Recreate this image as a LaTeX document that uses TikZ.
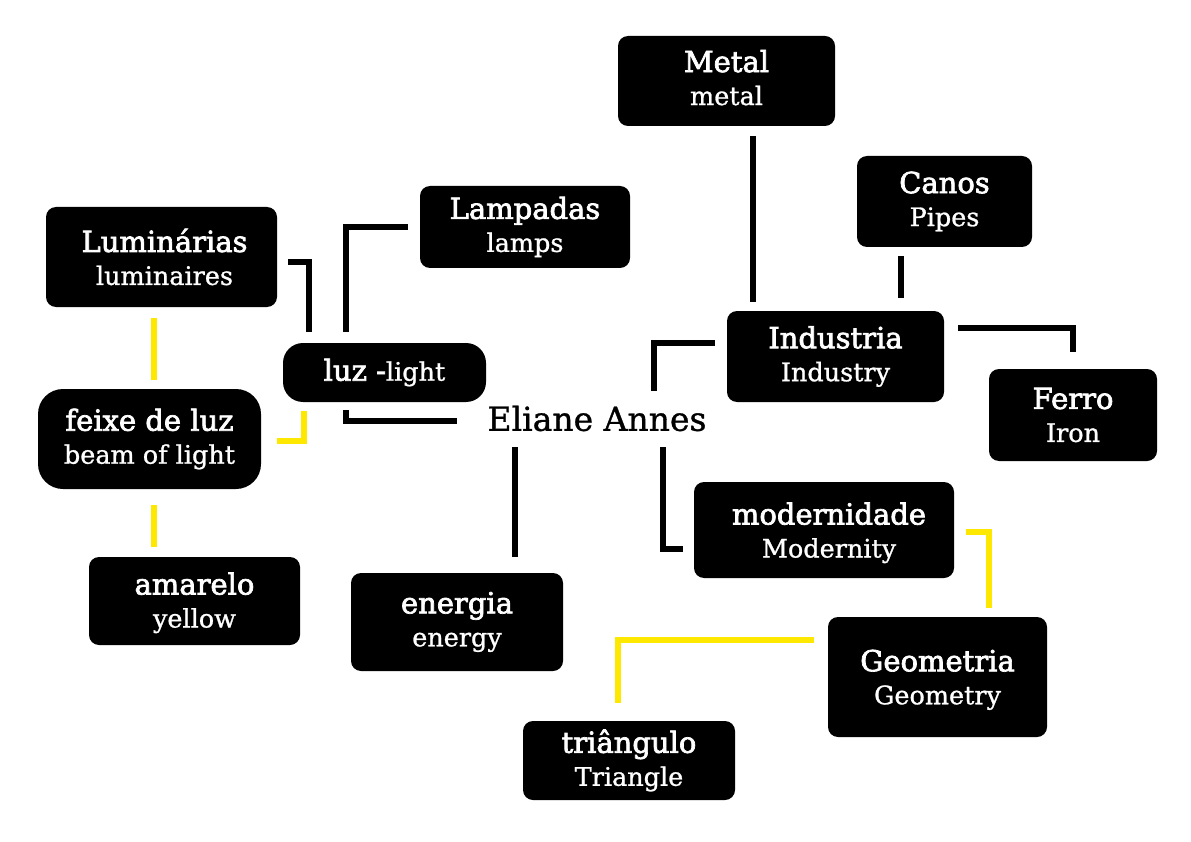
\documentclass[tikz,border=0pt]{standalone}
\usepackage{fontspec}
\setmainfont{DejaVu Serif}
\newfontfamily\ttlfont[FakeBold=2.4]{DejaVu Serif}
\newfontfamily\subfont[FakeBold=1.0]{DejaVu Serif}
\usetikzlibrary{calc}
\definecolor{ylw}{HTML}{FFE800}
\newcommand\ttl[1]{{\ttlfont\fontsize{29}{33}\selectfont #1}}
\tikzset{
  box/.style={fill=black, text=white, rounded corners=10pt, align=center, inner sep=0pt,
    font=\subfont\fontsize{25.5}{33}\selectfont},
  blk/.style={draw=black, line width=6pt},
  ylink/.style={draw=ylw, line width=6.5pt}
}
\begin{document}
\begin{tikzpicture}[x=1pt,y=-1pt]
\useasboundingbox (0,0) rectangle (1191,842);
\fill[white] (0,0) rectangle (1191,842);
% boxes
\node[box, minimum width=217pt, minimum height=90pt, text depth=7pt] (metal) at (726.5,81) {\ttl{Metal}\\metal};
\node[box, minimum width=175pt, minimum height=91pt] (canos) at (944.5,201.5) {\ttl{Canos}\\Pipes};
\node[box, minimum width=210pt, minimum height=82pt] (lamp) at (525,227) {\ttl{Lampadas}\\lamps};
\node[box, minimum width=231pt, minimum height=100pt] (lum) at (161.5,257) {\hspace*{6pt}\ttl{Luminárias}\\\hspace*{6pt}luminaires};
\node[box, rounded corners=20pt, minimum width=203pt, minimum height=59pt] (luz) at (384.5,372.5) {\ttl{luz -}light};
\node[box, minimum width=217pt, minimum height=91pt] (ind) at (835.5,356.5) {\ttl{Industria}\\Industry};
\node[box, minimum width=168pt, minimum height=92pt] (ferro) at (1073,415) {\ttl{Ferro}\\Iron};
\node[box, rounded corners=25pt, minimum width=223pt, minimum height=100pt] (feixe) at (149.5,439) {\ttl{feixe de luz}\\beam of light};
\node[box, minimum width=211pt, minimum height=88pt, text depth=2pt] (amarelo) at (194.5,601) {\ttl{amarelo}\\yellow};
\node[box, minimum width=212pt, minimum height=98pt] (energia) at (457,622) {\ttl{energia}\\energy};
\node[box, minimum width=260pt, minimum height=96pt, text depth=0pt] (mod) at (824,530) {\hspace*{10pt}\ttl{modernidade}\\\hspace*{10pt}Modernity};
\node[box, minimum width=219pt, minimum height=120pt, text depth=0pt] (geo) at (937.5,677) {\ttl{Geometria}\\Geometry};
\node[box, minimum width=212pt, minimum height=79pt] (tri) at (629,760.5) {\ttl{triângulo}\\Triangle};
\node[inner sep=0pt, font=\subfont\fontsize{33}{40}\selectfont] (eliane) at (597,418.5) {Eliane Annes};
% black connectors
\draw[blk, shorten <=10pt, shorten >=9pt] ([xshift=26pt]ind.north west |- metal.south) -- ([xshift=26pt]ind.north west);
\draw[blk, shorten <=9pt, shorten >=13pt] ([xshift=-43.5pt]canos.south) -- ([xshift=-43.5pt]canos.south |- ind.north);
\draw[blk, shorten <=14pt, shorten >=17pt] ([yshift=28.5pt]ind.east) -| (ferro.north);
\draw[blk, shorten >=12pt] ([xshift=57pt,yshift=27.5pt]eliane.center) |- ([yshift=13.5pt]ind.west);
\draw[blk, shorten >=11pt] ([xshift=66pt,yshift=-28.5pt]eliane.center) |- ([yshift=-19pt]mod.west);
\draw[blk, shorten >=16pt] ([xshift=-82pt,yshift=-28.5pt]eliane.center) -- ([xshift=-82pt]eliane.center |- energia.north);
\draw[blk, shorten <=8pt, shorten >=30pt] ([xshift=63pt]luz.south west) |- ([yshift=-2.5pt]eliane.west);
\draw[blk, shorten <=11pt, shorten >=12pt] ([xshift=63pt]luz.north west) |- (lamp.west);
\draw[blk, shorten <=11pt, shorten >=11pt] ([yshift=-5pt]lum.east) -| ([xshift=26pt]luz.north west);
% yellow connectors
\draw[ylink, shorten <=12pt, shorten >=9pt] ([yshift=-2pt]mod.east) -| ([xshift=51.5pt]geo.north);
\draw[ylink, shorten <=14pt, shorten >=18pt] ([yshift=37pt]geo.west) -| ([xshift=-11pt]tri.north);
\draw[ylink, shorten <=11pt, shorten >=9pt] ([xshift=-7.5pt]lum.south) -- ([xshift=-7.5pt]lum.south |- feixe.north);
\draw[ylink, shorten <=16pt, shorten >=10pt] ([xshift=4.5pt]feixe.south) -- ([xshift=4.5pt]feixe.south |- amarelo.north);
\draw[ylink, shorten <=16pt, shorten >=9pt] ([yshift=-2pt]feixe.east) -| ([xshift=21pt]luz.south west);
\end{tikzpicture}
\end{document}
